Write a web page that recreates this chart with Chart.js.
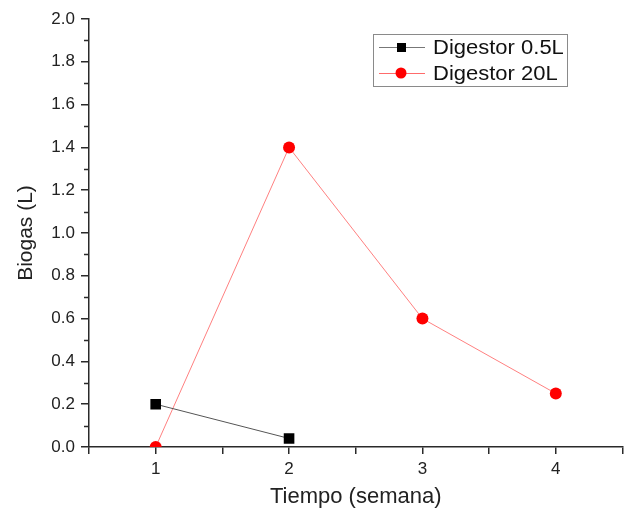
<!DOCTYPE html>
<html>
<head>
<meta charset="utf-8">
<script src="https://cdn.jsdelivr.net/npm/chart.js@4/dist/chart.umd.min.js"></script>
<style>
  html, body { margin: 0; padding: 0; background: #fff; }
  #wrap { width: 630px; height: 514px; }
</style>
</head>
<body>
<div id="wrap"><canvas id="biogasChart" width="630" height="514"></canvas></div>
<script>
const semanas05 = [1, 2];
const biogas05 = [0.2, 0.04];
const semanas20 = [1, 2, 3, 4];
const biogas20 = [0, 1.4, 0.6, 0.25];
const serieNames = ["Digestor 0.5L", "Digestor 20L"];

const FONT = "'Liberation Sans', Arial, sans-serif";
const AXIS = "#2a2a2a";

const minorTicks = {
  id: "minorTicks",
  afterDraw(chart) {
    const { ctx, scales } = chart;
    const y = scales.y, x = scales.x;
    ctx.save();
    ctx.strokeStyle = AXIS;
    ctx.lineWidth = 1.5;
    for (let v = 0.1; v < 2; v += 0.2) {
      const py = Math.round(y.getPixelForValue(v)) + 0.5;
      ctx.beginPath();
      ctx.moveTo(x.left - 5, py);
      ctx.lineTo(x.left, py);
      ctx.stroke();
    }
    ctx.restore();
  },
};

const boxLegend = {
  id: "boxLegend",
  afterDraw(chart) {
    const ctx = chart.ctx;
    const bx = 373, by = 34, bw = 194, bh = 52;
    ctx.save();
    ctx.strokeStyle = "#8a8a8a";
    ctx.lineWidth = 1;
    ctx.strokeRect(bx + 0.5, by + 0.5, bw, bh);
    const rows = [
      { y: 47, color: "#777", marker: "#000", square: true },
      { y: 73, color: "#ff6b6b", marker: "#ff0000", square: false },
    ];
    rows.forEach((r, i) => {
      ctx.strokeStyle = r.color;
      ctx.lineWidth = 1;
      ctx.beginPath();
      ctx.moveTo(379, r.y + 0.5);
      ctx.lineTo(425, r.y + 0.5);
      ctx.stroke();
      ctx.fillStyle = r.marker;
      if (r.square) {
        ctx.fillRect(397, r.y - 4, 9, 9);
      } else {
        ctx.beginPath();
        ctx.arc(401, r.y, 5.5, 0, Math.PI * 2);
        ctx.fill();
      }
      ctx.fillStyle = "#111";
      ctx.font = "20px " + FONT;
      ctx.textBaseline = "middle";
      ctx.save();
      ctx.translate(433, r.y + 1);
      ctx.scale(1.1, 1);
      ctx.fillText(serieNames[i], 0, 0);
      ctx.restore();
    });
    ctx.restore();
  },
};

new Chart(document.getElementById("biogasChart").getContext("2d"), {
  type: "line",
  data: {
    datasets: [
      {
        label: serieNames[0],
        data: semanas05.map((s, i) => ({ x: s, y: biogas05[i] })),
        borderColor: "#555",
        borderWidth: 1,
        pointStyle: "rect",
        pointRadius: 7.5,
        pointBackgroundColor: "#000",
        pointBorderWidth: 0,
        clip: { left: 10, top: 10, right: 10, bottom: 0 },
      },
      {
        label: serieNames[1],
        data: semanas20.map((s, i) => ({ x: s, y: biogas20[i] })),
        borderColor: "#ff8080",
        borderWidth: 1,
        pointStyle: "circle",
        pointRadius: 6,
        pointBackgroundColor: "#ff0000",
        pointBorderWidth: 0,
        clip: { left: 10, top: 10, right: 10, bottom: 0 },
      },
    ],
  },
  options: {
    responsive: false,
    animation: false,
    events: [],
    layout: { padding: { top: 19, right: 3, left: 0, bottom: 0 } },
    plugins: { legend: { display: false }, tooltip: { enabled: false } },
    scales: {
      x: {
        type: "linear",
        min: 0.5,
        max: 4.5,
        border: { display: true, color: AXIS, width: 1.5 },
        grid: { drawOnChartArea: false, drawTicks: true, tickLength: 7, color: AXIS, lineWidth: 1.5 },
        ticks: {
          stepSize: 0.5,
          autoSkip: false,
          maxRotation: 0,
          color: "#222",
          font: { family: FONT, size: 17 },
          padding: 5,
          callback: (v) => (Number.isInteger(v) ? String(v) : ""),
        },
        title: {
          display: true,
          text: "Tiempo (semana)",
          color: "#222",
          font: { family: FONT, size: 22 },
          padding: { top: 4, bottom: 4 },
        },
        afterFit: (s) => { s.height = 67; },
      },
      y: {
        min: 0,
        max: 2,
        border: { display: true, color: AXIS, width: 1.5 },
        grid: { drawOnChartArea: false, drawTicks: true, tickLength: 8, color: AXIS, lineWidth: 1.5 },
        ticks: {
          stepSize: 0.2,
          color: "#222",
          font: { family: FONT, size: 17 },
          padding: 6,
          callback: (v) => v.toFixed(1),
        },
        title: {
          display: true,
          text: "Biogas (L)",
          color: "#222",
          font: { family: FONT, size: 21 },
          padding: { top: 14, bottom: 4 },
        },
        afterFit: (s) => { s.width = 89; },
      },
    },
  },
  plugins: [minorTicks, boxLegend],
});
</script>
</body>
</html>
